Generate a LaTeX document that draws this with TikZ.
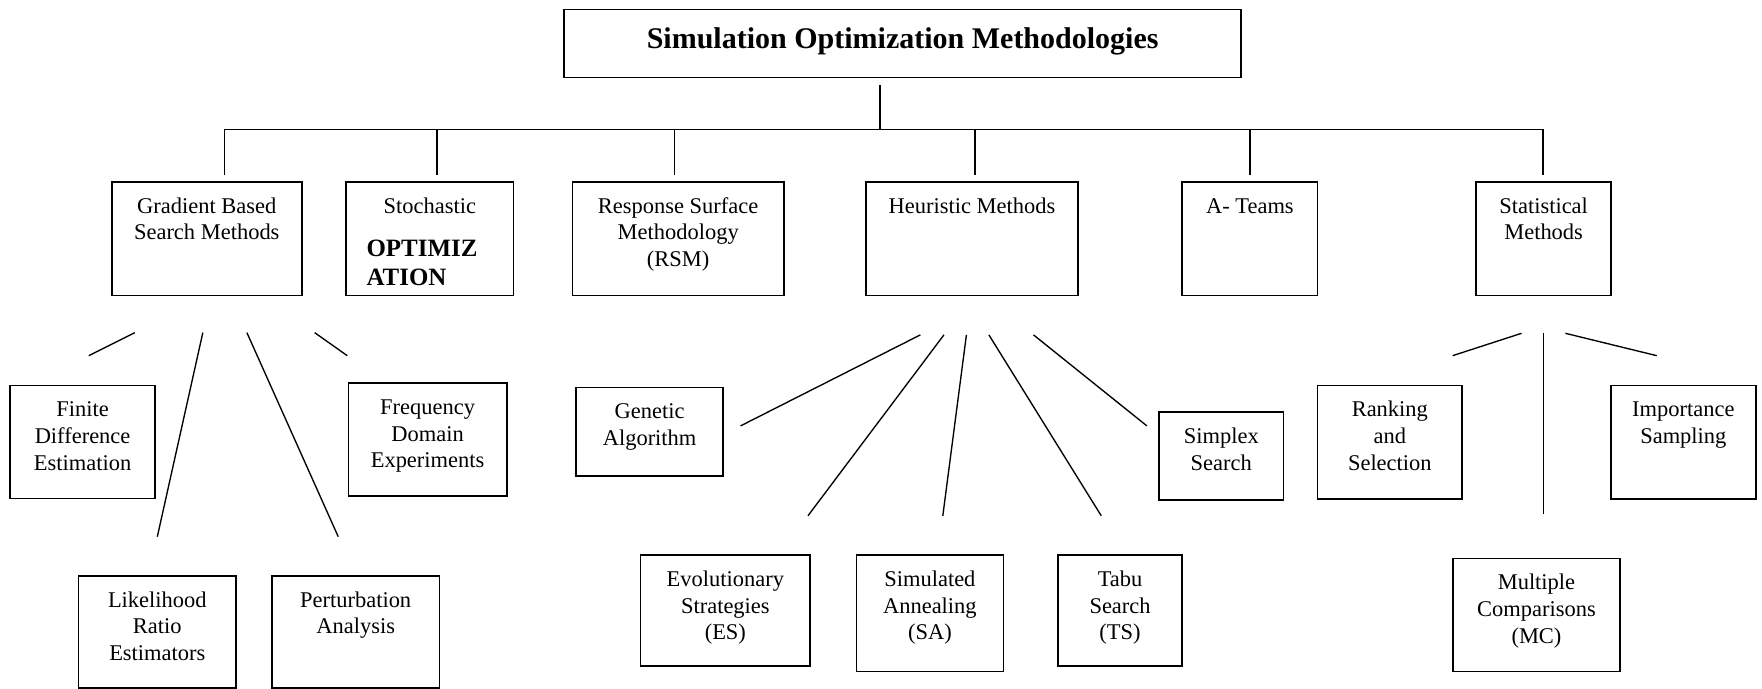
\documentclass[tikz,border=0pt]{standalone}
\usepackage{fontspec}
\setmainfont{Liberation Serif}
\newcommand\mystrut{\rule{0pt}{16pt}}
\newcommand\mkbox[6]{%
  \node[bx, minimum width={(#4-#2)*1pt}, minimum height={(#5-#3)*1pt}] (#1) at ({(#2+#4)/2},{(#3+#5)/2}) {};
  \node[tx] (#1t) at ({(#2+#4)/2},{#3+11.5}) {\mystrut #6};
}
\begin{document}
\begin{tikzpicture}[x=1pt,y=-1pt,
  bx/.style={draw, line width=1.4pt, inner sep=0pt, outer sep=0pt},
  tx/.style={anchor=north, align=center, inner sep=0pt, font=\fontsize{20}{23.8}\selectfont},
  ln/.style={line width=1.2pt}]
\fill[white] (0,0) rectangle (1568,613);
\useasboundingbox (0,0) rectangle (1568,613);

% root
\node[bx, minimum width=602.5pt, minimum height=60.7pt] (root) at (803.25,38.65) {};
\node[tx, font=\bfseries\fontsize{26.7}{30}\selectfont] (roott) at (803.25,23) {\rule{0pt}{20pt}Simulation Optimization Methodologies};

% level 1
\mkbox{grad}{99.5}{162}{268.5}{263}{Gradient Based\\Search Methods}
\mkbox{stoch}{308}{162}{457}{263}{Stochastic}
\node[tx, anchor=north west, align=left, font=\bfseries\fontsize{22.2}{25.8}\selectfont] (stochb) at (326,211.4) {\rule{0pt}{17pt}OPTIMIZ\\ATION};
\mkbox{rsm}{509.5}{162}{697.5}{263}{Response Surface\\Methodology\\(RSM)}
\mkbox{heur}{770.7}{162}{959.3}{263}{Heuristic Methods}
\mkbox{ateams}{1052}{162}{1172.5}{263}{A- Teams}
\mkbox{stat}{1313.6}{162}{1433.7}{263}{Statistical\\Methods}

% level 2
\mkbox{fde}{9}{343}{138}{443.5}{Finite\\Difference\\Estimation}
\mkbox{fdx}{310}{341}{451}{441.5}{Frequency\\Domain\\Experiments}
\mkbox{lre}{70}{512.6}{210}{612}{Likelihood\\Ratio\\Estimators}
\mkbox{pa}{242}{512.6}{391}{612}{Perturbation\\Analysis}
\mkbox{ga}{512.6}{345}{643.6}{423.6}{Genetic\\Algorithm}
\mkbox{es}{570}{494}{721}{592.7}{Evolutionary\\Strategies\\(ES)}
\mkbox{sa}{762}{494}{893}{597.7}{Simulated\\Annealing\\(SA)}
\mkbox{ts}{941.5}{494}{1052}{592.7}{Tabu\\Search\\(TS)}
\mkbox{ss}{1031.6}{366.8}{1142}{445}{Simplex\\Search}
\mkbox{rs}{1172.6}{343}{1301}{443.8}{Ranking\\and\\Selection}
\mkbox{is}{1433.6}{343}{1562.4}{443.8}{Importance\\Sampling}
\mkbox{mc}{1293}{497}{1441.6}{597.7}{Multiple\\Comparisons\\(MC)}

% trunk and bus
\coordinate (trunkTop) at (783,75.7);
\coordinate (trunkBot) at (783,115.4);
\draw[ln] (trunkTop) -- (trunkBot);
\foreach \n/\x in {grad/200, stoch/389, rsm/600, heur/867.7, ateams/1112.5, stat/1373}{
  \coordinate (\n-up) at (\x,115.4);
  \coordinate (\n-dn) at (\x,155.7);
}
\draw[ln] (grad-dn) -- (grad-up) -- (stat-up) -- (stat-dn);
\foreach \n in {stoch, rsm, heur, ateams}{
  \draw[ln] (\n-up) -- (\n-dn);
}

% child connectors
\foreach \a/\b/\c/\d [count=\i] in {
  120/296/79/316.5, 180.5/296/140/477.6, 219.7/296/301/477.6, 280/296/309/316.5,
  819/298/659/379, 840/298/719/459, 860/298/839/459, 880/298/980/459, 919.7/298/1020.6/379,
  1354/296.6/1292.7/316.5, 1373.4/296.6/1373.4/457.4, 1393/296.6/1474.3/316.5}{
  \coordinate (k\i-a) at (\a,\b);
  \coordinate (k\i-b) at (\c,\d);
  \draw[ln] (k\i-a) -- (k\i-b);
}
\end{tikzpicture}
\end{document}
